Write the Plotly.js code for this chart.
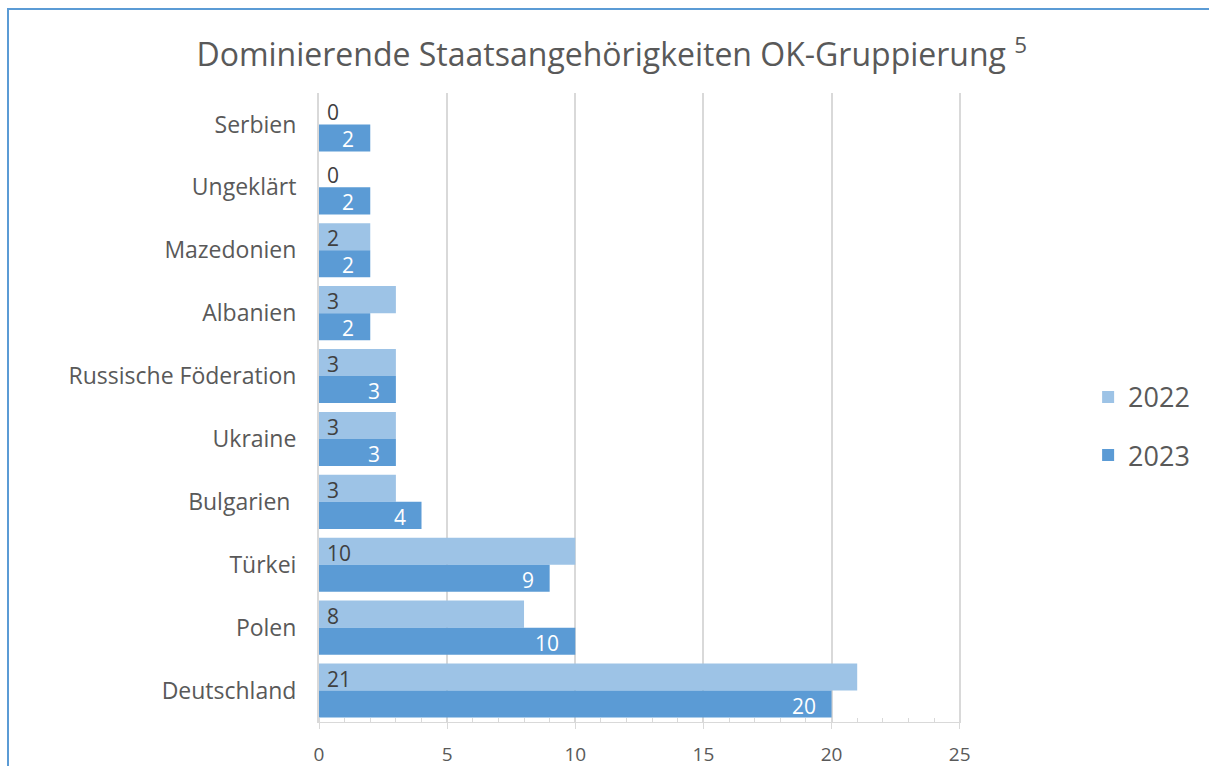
<!DOCTYPE html>
<html><head><meta charset="utf-8">
<script src="https://cdn.plot.ly/plotly-3.0.1.min.js"></script>
<style>
body{margin:0;background:#fff;}
#wrap{position:relative;width:1209px;height:766px;}
#chart{width:1209px;height:766px;}
#frame{position:absolute;left:7px;top:8px;width:1202px;height:758px;border-top:2px solid #5B9BD5;border-left:2px solid #5B9BD5;pointer-events:none;}
</style></head>
<body><div id="wrap"><div id="chart"></div><div id="frame"></div></div>
<script>
const categories = ["Serbien","Ungeklärt","Mazedonien","Albanien","Russische Föderation","Ukraine","Bulgarien ","Türkei","Polen","Deutschland"];
const values2022 = [0,0,2,3,3,3,3,10,8,21];
const values2023 = [2,2,2,2,3,3,4,9,10,20];
const seriesNames = ["2022","2023"];
const xTicks = [0,5,10,15,20,25];

const FONT = "'Open Sans', 'Noto Sans', sans-serif";

const t2022 = {
  type:'bar', orientation:'h', name:seriesNames[0], legendgroup:'a',
  y:categories, x:values2022,
  marker:{color:'#9DC3E6'},
  hoverinfo:'x+y'
};
const t2023 = {
  type:'bar', orientation:'h', name:seriesNames[1], legendgroup:'b',
  y:categories, x:values2023,
  marker:{color:'#5B9BD5'},
  hoverinfo:'x+y'
};

// value labels built from the data arrays
const annotations = [];
categories.forEach((c, i) => {
  annotations.push({x:0, y:c, xref:'x', yref:'y', text:String(values2022[i]),
    showarrow:false, xanchor:'left', yanchor:'middle', xshift:6, yshift:12,
    font:{family:FONT, size:21, color:'#404040'}});
  annotations.push({x:values2023[i], y:c, xref:'x', yref:'y', text:String(values2023[i]),
    showarrow:false, xanchor:'right', yanchor:'middle', xshift:-14, yshift:-15,
    font:{family:FONT, size:21, color:'#ffffff'}});
});

const layout = {
  width:1209, height:766,
  margin:{l:319, r:248, t:93, b:44},
  paper_bgcolor:'#ffffff', plot_bgcolor:'#ffffff',
  font:{family:FONT, color:'#595959'},
  title:{text:"Dominierende Staatsangehörigkeiten OK-Gruppierung <sup>5</sup>", font:{family:FONT,size:32,color:'#595959'}, x:0.506, xref:'container', y:0.928, yref:'container', yanchor:'middle'},
  barmode:'group', bargap:0.14, bargroupgap:0,
  annotations:annotations,
  xaxis:{range:[0,25.05], tickvals:xTicks, ticktext:xTicks.map(String),
    showgrid:true, gridcolor:'#d9d9d9', gridwidth:2,
    zeroline:false, showline:true, linecolor:'#d9d9d9', linewidth:1,
    ticks:'outside', ticklen:6, tickcolor:'#d9d9d9', tickwidth:1,
    minor:{dtick:1, ticks:'inside', ticklen:4, tickcolor:'#d9d9d9', showgrid:false},
    tickfont:{family:FONT,size:19,color:'#595959'}, ticklabelstandoff:9, fixedrange:true},
  yaxis:{autorange:'reversed', type:'category', showline:true, linecolor:'#d9d9d9', linewidth:2,
    ticks:'', showgrid:false, zeroline:false,
    tickfont:{family:FONT,size:23,color:'#595959'}, ticklabelstandoff:16, fixedrange:true},
  showlegend:true,
  legend:{x:1.198, xanchor:'left', y:0.47, yanchor:'middle', traceorder:'grouped',
    font:{family:FONT,size:27,color:'#595959'}, itemwidth:30, tracegroupgap:20},
};

Plotly.newPlot('chart',[t2022,t2023],layout,{displayModeBar:false,staticPlot:true});
</script></body></html>
